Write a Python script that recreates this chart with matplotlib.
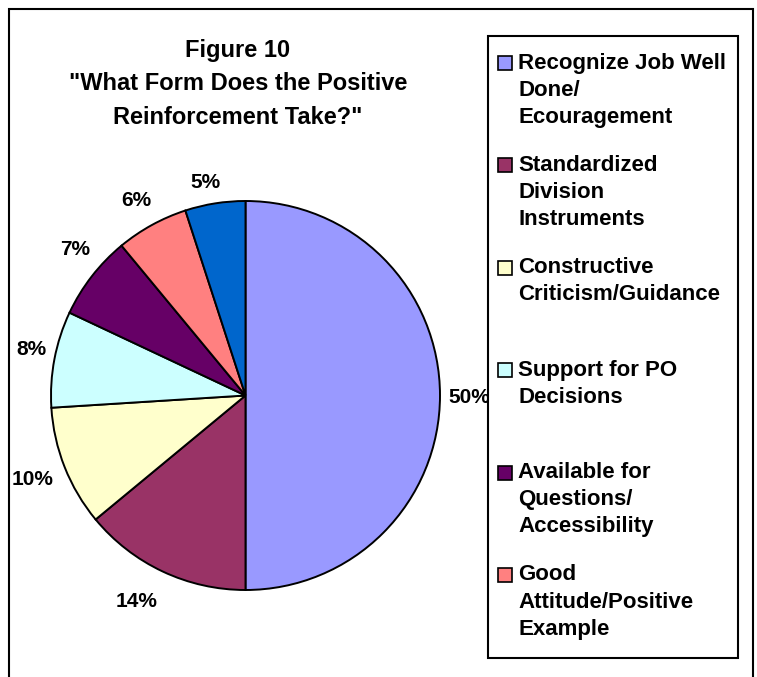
import matplotlib as mpl
import matplotlib.pyplot as plt
import numpy as np
from matplotlib.patches import Rectangle

plt.close('all')

# datos
labels = ['Recognize Job Well\nDone/\nEcouragement',
          'Standardized\nDivision\nInstruments',
          'Constructive\nCriticism/Guidance',
          'Support for PO\nDecisions',
          'Available for\nQuestions/\nAccessibility',
          'Good\nAttitude/Positive\nExample',
          'Other']
values = [50, 14, 10, 8, 7, 6, 5]
colors = ['#9999FF', '#993366', '#FFFFCC', '#CCFFFF', '#660066', '#FF8080', '#0066CC']
title = ['Figure 10', '"What Form Does the Positive', 'Reinforcement Take?"']
# posicion de cada etiqueta: distancia (radios) y giro (grados)
dist = [1.152, 1.20, 1.175, 1.127, 1.152, 1.152, 1.116]
giro = [-0.6, -2.7, 0.0, -1.2, -2.7, 0.5, 1.5]

mpl.rcParams.update({'font.family': 'Liberation Sans', 'font.weight': 'bold'})

W, H = 757, 677
fig = plt.figure(figsize=(W/100., H/100.), dpi=100)

def fx(px):
    return px/float(W)
def fy(py):
    return 1 - py/float(H)

# pie
cx, cy, r = 245.5, 395.5, 194.5
ax = fig.add_axes((fx(cx-r), fy(cy+r), 2*r/float(W), 2*r/float(H)))
wedges, texts, autotexts = ax.pie(values, colors=colors, startangle=90, counterclock=False,
       autopct='%1.0f%%', pctdistance=1.17,
       wedgeprops={'edgecolor': 'black', 'linewidth': 1.4},
       textprops={'fontsize': 15, 'fontweight': 'bold'})
for w, t, d, g in zip(wedges, autotexts, dist, giro):
    th = np.deg2rad(0.5*(w.theta1 + w.theta2) + g)
    t.set_position((d*np.cos(th), d*np.sin(th)))
ax.set_xlim(-1, 1); ax.set_ylim(-1, 1)
ax.set_aspect('auto')
ax.axis('off')

# titulo
for j, line in enumerate(title):
    fig.text(fx(238), fy(50 + j*34), line, ha='center', va='center',
             fontsize=17, fontweight='bold')

# marco exterior
fig.patches.append(Rectangle((fx(9), fy(H+20)), fx(753-9), (H+20-9)/float(H),
                             transform=fig.transFigure, fill=False,
                             edgecolor='black', linewidth=1.5, zorder=1))

# leyenda (manual)
fig.patches.append(Rectangle((fx(488), fy(658)), fx(738-488), (658-36)/float(H),
                             transform=fig.transFigure, facecolor='white',
                             edgecolor='black', linewidth=1.5, zorder=2))
y0 = 63.
step = 102.4
for i in range(6):
    yc = y0 + i*step
    fig.patches.append(Rectangle((fx(498), fy(yc+7)), fx(14), 14/float(H),
                                 transform=fig.transFigure, facecolor=colors[i],
                                 edgecolor='black', linewidth=1.2, zorder=3))
    for j, line in enumerate(labels[i].split('\n')):
        fig.text(fx(518), fy(yc + j*27), line, ha='left', va='center',
                 fontsize=16, fontweight='bold', zorder=4)

fig.savefig('out.png', dpi=100)
